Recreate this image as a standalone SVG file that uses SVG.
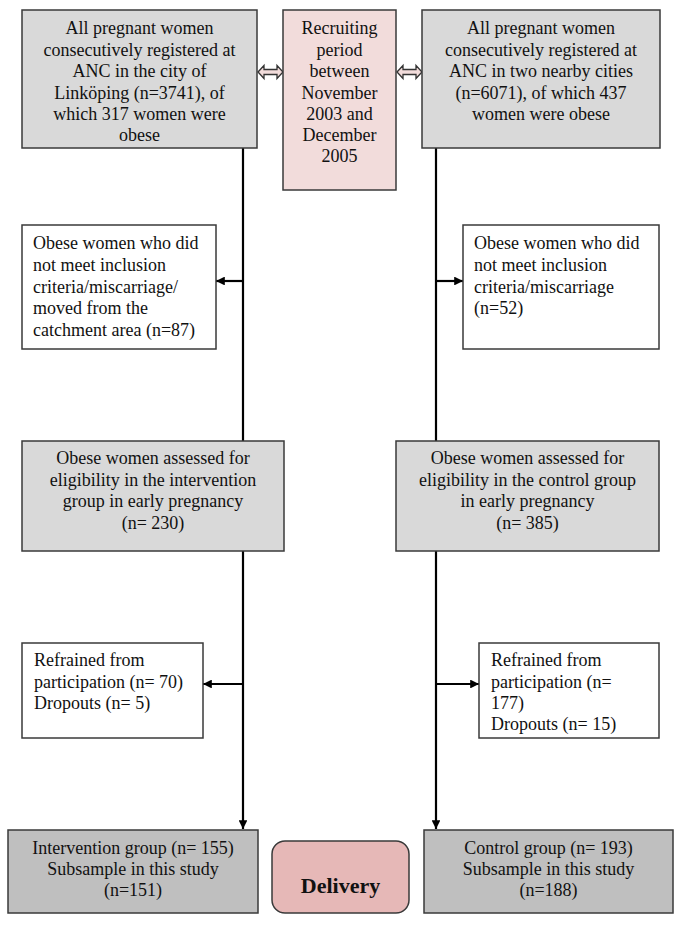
<svg xmlns="http://www.w3.org/2000/svg" width="685" height="943" viewBox="0 0 685 943">
<style>
  .box { stroke: #3a3a3a; stroke-width: 1.5; }
  .g1 { fill: #d9d9d9; }
  .g2 { fill: #bfbfbf; }
  .w { fill: #ffffff; }
  .pk { fill: #f2dcdb; }
  .dl { fill: #e6b8b7; }
  text { font-family: "Liberation Serif", "Times New Roman", serif; font-size: 18px; fill: #111; }
  .c { text-anchor: middle; }
  .b { font-weight: bold; font-size: 22px; }
  .ln { stroke: #000; stroke-width: 2.2; fill: none; }
  .dbl { fill: #f2dcdb; stroke: #333; stroke-width: 1.3; }
</style>
<defs>
  <marker id="ah" viewBox="0 0 10 10" refX="10" refY="5" markerWidth="4" markerHeight="4" orient="auto" markerUnits="strokeWidth">
    <path d="M0,0 L10,5 L0,10 z" fill="#000"/>
  </marker>
</defs>
<rect width="685" height="943" fill="#ffffff"/>

<g id="connectors">
  <line class="ln" x1="243" y1="148" x2="243" y2="441"/>
  <line class="ln" x1="436" y1="148" x2="436" y2="441"/>
  <line class="ln" x1="243" y1="551" x2="243" y2="829" marker-end="url(#ah)"/>
  <line class="ln" x1="436" y1="551" x2="436" y2="829" marker-end="url(#ah)"/>
  <line class="ln" x1="243" y1="281" x2="216" y2="281" marker-end="url(#ah)"/>
  <line class="ln" x1="436" y1="281" x2="463" y2="281" marker-end="url(#ah)"/>
  <line class="ln" x1="243" y1="684" x2="203" y2="684" marker-end="url(#ah)"/>
  <line class="ln" x1="436" y1="684" x2="479" y2="684" marker-end="url(#ah)"/>
  <polygon class="dbl" points="258,72 264,65.5 264,69.5 277,69.5 277,65.5 283,72 277,78.5 277,74.5 264,74.5 264,78.5"/>
  <polygon class="dbl" points="397,72 403,65.5 403,69.5 416,69.5 416,65.5 422,72 416,78.5 416,74.5 403,74.5 403,78.5"/>
</g>

<g id="n_top_left">
  <rect class="box g1" x="22" y="10" width="235" height="138"/>
  <text class="c" x="139.5" y="34">All pregnant women</text>
  <text class="c" x="139.5" y="56">consecutively registered at</text>
  <text class="c" x="139.5" y="77">ANC in the city of</text>
  <text class="c" x="139.5" y="99">Linköping (n=3741), of</text>
  <text class="c" x="139.5" y="120">which 317 women were</text>
  <text class="c" x="139.5" y="141">obese</text>
</g>

<g id="n_recruit">
  <rect class="box pk" x="283" y="10" width="113" height="180"/>
  <text class="c" x="339.5" y="34">Recruiting</text>
  <text class="c" x="339.5" y="56">period</text>
  <text class="c" x="339.5" y="77">between</text>
  <text class="c" x="339.5" y="99">November</text>
  <text class="c" x="339.5" y="120">2003 and</text>
  <text class="c" x="339.5" y="141">December</text>
  <text class="c" x="339.5" y="162">2005</text>
</g>

<g id="n_top_right">
  <rect class="box g1" x="422" y="10" width="238" height="138"/>
  <text class="c" x="541" y="34">All pregnant women</text>
  <text class="c" x="541" y="56">consecutively registered at</text>
  <text class="c" x="541" y="77">ANC in two nearby cities</text>
  <text class="c" x="541" y="99">(n=6071), of which 437</text>
  <text class="c" x="541" y="120">women were obese</text>
</g>

<g id="n_excl_left">
  <rect class="box w" x="22" y="225" width="194" height="124"/>
  <text x="33" y="249">Obese women who did</text>
  <text x="33" y="271">not meet inclusion</text>
  <text x="33" y="293">criteria/miscarriage/</text>
  <text x="33" y="314">moved from the</text>
  <text x="33" y="336">catchment area (n=87)</text>
</g>

<g id="n_excl_right">
  <rect class="box w" x="463" y="225" width="196" height="124"/>
  <text x="474" y="249">Obese women who did</text>
  <text x="474" y="271">not meet inclusion</text>
  <text x="474" y="293">criteria/miscarriage</text>
  <text x="474" y="314">(n=52)</text>
</g>

<g id="n_assess_left">
  <rect class="box g1" x="22" y="441" width="262" height="110"/>
  <text class="c" x="153" y="464">Obese women assessed for</text>
  <text class="c" x="153" y="486">eligibility in the intervention</text>
  <text class="c" x="153" y="507">group in early pregnancy</text>
  <text class="c" x="153" y="529">(n= 230)</text>
</g>

<g id="n_assess_right">
  <rect class="box g1" x="396" y="441" width="263" height="110"/>
  <text class="c" x="527.5" y="464">Obese women assessed for</text>
  <text class="c" x="527.5" y="486">eligibility in the control group</text>
  <text class="c" x="527.5" y="507">in early pregnancy</text>
  <text class="c" x="527.5" y="529">(n= 385)</text>
</g>

<g id="n_refr_left">
  <rect class="box w" x="22" y="643" width="181" height="95"/>
  <text x="34" y="666">Refrained from</text>
  <text x="34" y="688">participation (n= 70)</text>
  <text x="34" y="709">Dropouts (n= 5)</text>
</g>

<g id="n_refr_right">
  <rect class="box w" x="479" y="643" width="180" height="95"/>
  <text x="491" y="666">Refrained from</text>
  <text x="491" y="688">participation (n=</text>
  <text x="491" y="709">177)</text>
  <text x="491" y="730">Dropouts (n= 15)</text>
</g>

<g id="n_interv">
  <rect class="box g2" x="8" y="830" width="250" height="83"/>
  <text class="c" x="133" y="854">Intervention group (n= 155)</text>
  <text class="c" x="133" y="875">Subsample in this study</text>
  <text class="c" x="133" y="896">(n=151)</text>
</g>

<g id="n_delivery">
  <rect class="box dl" x="272" y="841" width="137" height="72" rx="13" ry="13"/>
  <text class="c b" x="340.5" y="893">Delivery</text>
</g>

<g id="n_control">
  <rect class="box g2" x="424" y="830" width="249" height="83"/>
  <text class="c" x="548.5" y="854">Control group (n= 193)</text>
  <text class="c" x="548.5" y="875">Subsample in this study</text>
  <text class="c" x="548.5" y="896">(n=188)</text>
</g>
</svg>
